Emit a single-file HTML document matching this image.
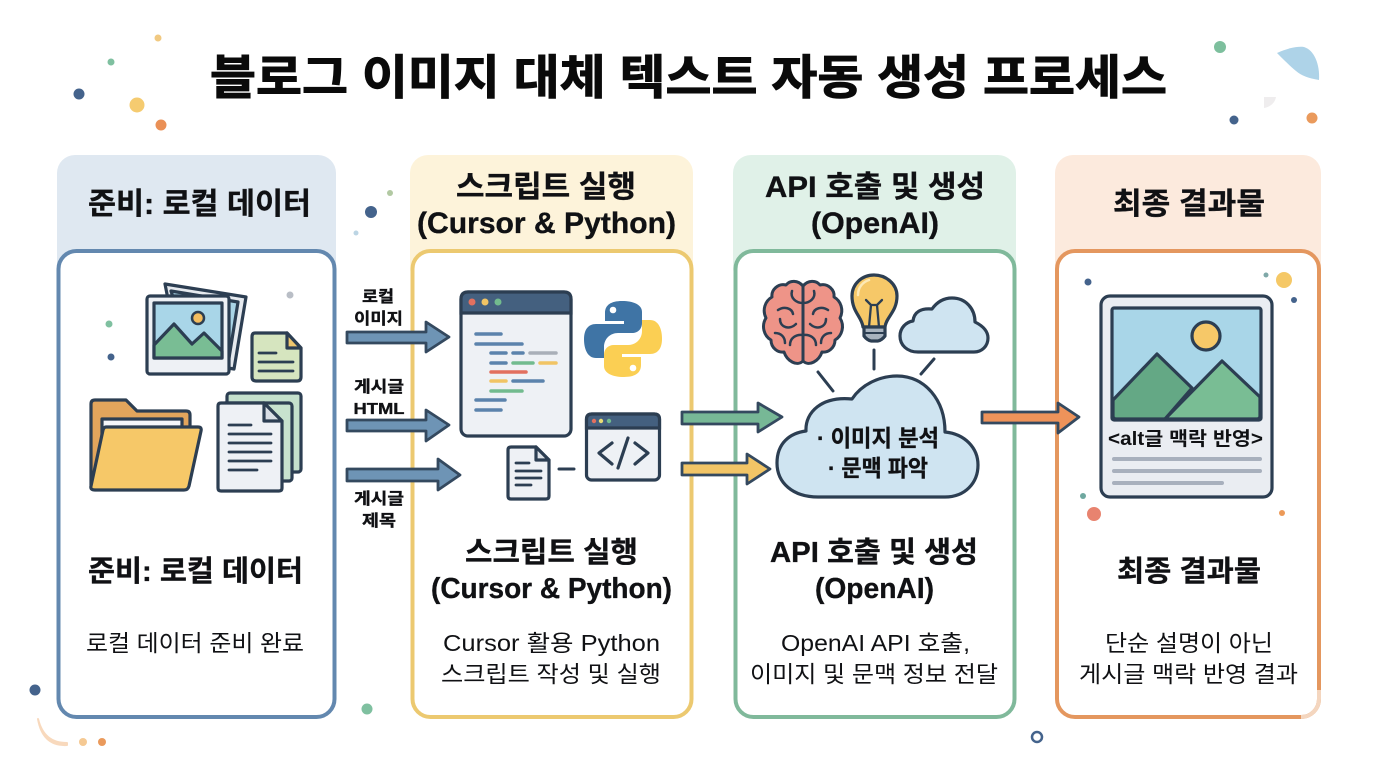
<!DOCTYPE html>
<html lang="ko"><head><meta charset="utf-8"><title>블로그 이미지 대체 텍스트 자동 생성 프로세스</title>
<style>
html,body{margin:0;padding:0;background:#fff;width:1376px;height:768px;overflow:hidden}
svg{display:block}
text{font-family:"Liberation Sans","Noto Sans CJK KR",sans-serif;fill:#101114;text-anchor:middle}
.b{font-weight:700;stroke:#101114;stroke-width:.35px}
.r{font-weight:400}
.ic{stroke:#2c3e52;stroke-width:3.2;stroke-linejoin:round;stroke-linecap:round}
.ln{stroke:#2c3e52;stroke-width:2.8;stroke-linecap:round;fill:none}
.th{stroke-width:3.5;stroke-linecap:round;fill:none}
</style></head><body>
<svg width="1376" height="768" viewBox="0 0 1376 768" xmlns="http://www.w3.org/2000/svg">
<rect width="1376" height="768" fill="#fff"/>

<!-- decorations -->
<g>
<circle cx="158" cy="38" r="3.500" fill="#f1c981"/><circle cx="111" cy="62" r="3.500" fill="#7fc0a0"/>
<circle cx="79" cy="94" r="5.500" fill="#44638c"/><circle cx="137" cy="105" r="7.500" fill="#f5cb70"/>
<circle cx="161" cy="125" r="5.500" fill="#ea9056"/>
<circle cx="1220" cy="47" r="6" fill="#7dbf9d"/><circle cx="1234" cy="120" r="4.500" fill="#44638c"/>
<circle cx="1312" cy="118" r="5.500" fill="#ea9a5c"/>
<path d="M1277 53 C1288 48 1298 46 1304 47 C1314 50 1320 64 1319 80 C1308 78 1302 76 1296 71 C1290 66 1284 60 1277 53 Z" fill="#aed3e8"/>
<path d="M1264 97 H1276 C1275 103 1270 107 1264 108 Z" fill="#efedee"/>
<circle cx="390" cy="193" r="3" fill="#b2c9a3"/><circle cx="371" cy="212" r="6" fill="#44638c"/>
<circle cx="356" cy="233" r="2.500" fill="#bcd5e4"/>
<circle cx="1037" cy="737" r="5" fill="#fff" stroke="#44638c" stroke-width="2.500"/>
<circle cx="367" cy="709" r="5.500" fill="#7fc0a0"/><circle cx="35" cy="690" r="5.500" fill="#44638c"/>
<path d="M38 719 C42 735 51 743 67 743 L67 745 C50 746 41 736 38 719 Z" fill="#f8d9bd" stroke="#f8d9bd" stroke-width="2" stroke-linejoin="round"/>
<circle cx="83" cy="742" r="4" fill="#f5c993"/><circle cx="102" cy="742" r="4" fill="#ea9a5c"/>
</g>

<!-- title -->
<text x="688.500" y="94" font-size="47" font-weight="700" style="stroke:#0a0a0a;stroke-width:1px;fill:#0a0a0a" textLength="957" lengthAdjust="spacingAndGlyphs">블로그 이미지 대체 텍스트 자동 생성 프로세스</text>

<!-- panel headers -->
<rect x="57" y="155" width="279" height="130" rx="18" fill="#dfe8f1"/>
<rect x="410" y="155" width="283" height="130" rx="18" fill="#fdf3da"/>
<rect x="733" y="155" width="283" height="130" rx="18" fill="#e0f1e8"/>
<rect x="1055" y="155" width="266" height="130" rx="18" fill="#fceadd"/>
<!-- panel bodies -->
<rect x="58.500" y="251" width="276" height="466" rx="18" fill="#fff" stroke="#6388af" stroke-width="4"/>
<rect x="412.500" y="251" width="279" height="466" rx="18" fill="#fff" stroke="#ecc970" stroke-width="4"/>
<rect x="735.500" y="251" width="279" height="466" rx="18" fill="#fff" stroke="#80b99b" stroke-width="4"/>
<rect x="1057" y="251" width="262" height="466" rx="18" fill="#fff" stroke="#e4975f" stroke-width="4"/>
<path d="M1319 690 V699 A18 18 0 0 1 1301 717" fill="none" stroke="#f4d6bf" stroke-width="4"/>

<!-- header text -->
<text class="b" x="199.500" y="214" font-size="30" textLength="223" lengthAdjust="spacingAndGlyphs">준비: 로컬 데이터</text>
<text class="b" x="546" y="197" font-size="30" textLength="180" lengthAdjust="spacingAndGlyphs">스크립트 실행</text>
<text class="b" x="546.500" y="233" font-size="30" textLength="259" lengthAdjust="spacingAndGlyphs">(Cursor &amp; Python)</text>
<text class="b" x="875" y="197" font-size="30" textLength="220" lengthAdjust="spacingAndGlyphs">API 호출 및 생성</text>
<text class="b" x="875" y="233" font-size="30" textLength="128" lengthAdjust="spacingAndGlyphs">(OpenAI)</text>
<text class="b" x="1189" y="214" font-size="30" textLength="152" lengthAdjust="spacingAndGlyphs">최종 결과물</text>

<!-- body titles -->
<text class="b" x="195.500" y="581" font-size="29" textLength="215" lengthAdjust="spacingAndGlyphs">준비: 로컬 데이터</text>
<text class="b" x="551.500" y="562" font-size="29" textLength="173" lengthAdjust="spacingAndGlyphs">스크립트 실행</text>
<text class="b" x="551.500" y="598" font-size="29" textLength="241" lengthAdjust="spacingAndGlyphs">(Cursor &amp; Python)</text>
<text class="b" x="874" y="562" font-size="29" textLength="208" lengthAdjust="spacingAndGlyphs">API 호출 및 생성</text>
<text class="b" x="874.500" y="598" font-size="29" textLength="119" lengthAdjust="spacingAndGlyphs">(OpenAI)</text>
<text class="b" x="1189" y="581" font-size="29" textLength="144" lengthAdjust="spacingAndGlyphs">최종 결과물</text>

<!-- descriptions -->
<text class="r" x="195" y="651" font-size="23" textLength="218" lengthAdjust="spacingAndGlyphs">로컬 데이터 준비 완료</text>
<text class="r" x="551.500" y="651" font-size="23" textLength="217" lengthAdjust="spacingAndGlyphs">Cursor 활용 Python</text>
<text class="r" x="551" y="682" font-size="23" textLength="220" lengthAdjust="spacingAndGlyphs">스크립트 작성 및 실행</text>
<text class="r" x="875.500" y="651" font-size="23" textLength="189" lengthAdjust="spacingAndGlyphs">OpenAI API 호출,</text>
<text class="r" x="874" y="682" font-size="23" textLength="248" lengthAdjust="spacingAndGlyphs">이미지 및 문맥 정보 전달</text>
<text class="r" x="1189" y="651" font-size="23" textLength="168" lengthAdjust="spacingAndGlyphs">단순 설명이 아닌</text>
<text class="r" x="1188.500" y="682" font-size="23" textLength="219" lengthAdjust="spacingAndGlyphs">게시글 맥락 반영 결과</text>

<!-- PANEL 1 ICONS -->
<circle cx="290" cy="295" r="3.500" fill="#b9bec6"/><circle cx="109" cy="324" r="3.500" fill="#7fc0a0"/><circle cx="111" cy="357" r="3.500" fill="#44638c"/>
<g class="ic">
<path d="M165 284 L246 297 L234 369 L180 360 Z" fill="#e6eaef"/>
<path d="M171 291 L238 302 L229 358 L190 350 Z" fill="#a9d4e6"/>
<rect x="147" y="296" width="82" height="78" rx="3" fill="#eef1f5"/>
<rect x="154" y="303" width="68" height="55" fill="#a9d6e8"/>
<path d="M154 345 L174 324 L192 344 L204 333 L222 351 V358 H154 Z" fill="#79bd94"/>
<circle cx="198" cy="318" r="6" fill="#f4bd5f" stroke-width="2.500"/>
<path d="M255 333 H287 L301 348 V377 Q301 381 297 381 H256 Q252 381 252 377 V337 Q252 333 255 333 Z" fill="#d6e5bf"/>
<path d="M287 333 V348 H301 Z" fill="#efc76e"/>
<path d="M95 400 H126 L137 411 H186 Q190 411 190 415 V440 L105 489 H95 Q91 489 91 485 V404 Q91 400 95 400 Z" fill="#e2a55c"/>
<rect x="102" y="419" width="80" height="18" fill="#f4f6f9"/>
<path d="M106 427 H198 Q202 427 201 431 L189 486 Q188 490 184 490 H95 Q90 490 91 486 L103 430 Q104 427 106 427 Z" fill="#f6c868"/>
<rect x="227" y="393" width="74" height="79" rx="3" fill="#c4e0cc"/>
<rect x="222" y="403" width="70" height="78" rx="3" fill="#c7e2ce"/>
<path d="M221 403 H264 L282 421 V488 Q282 491 279 491 H221 Q218 491 218 488 V406 Q218 403 221 403 Z" fill="#eef1f5"/>
<path d="M264 403 V421 H282 Z" fill="#d9dfe6"/>
</g>
<g class="ln">
<path d="M259 353 H276 M259 362 H293 M259 371 H293"/>
<path d="M229 425 H251 M229 434 H271 M229 443 H271 M229 452 H271 M229 461 H271 M229 470 H257"/>
</g>

<!-- input arrows -->
<g fill="#6e94b5" stroke="#34495f" stroke-width="2.800" stroke-linejoin="round">
<path d="M347 332 H426 V322 L449 337 L426 352 V343 H347 Z"/>
<path d="M347 420 H426 V410 L449 425 L426 441 V431 H347 Z"/>
<path d="M347 469 H438 V459 L460 475 L438 490 V481 H347 Z"/>
</g>
<text class="b" x="378" y="302" font-size="16" textLength="32" lengthAdjust="spacingAndGlyphs">로컬</text>
<text class="b" x="378.500" y="324" font-size="16" textLength="49" lengthAdjust="spacingAndGlyphs">이미지</text>
<text class="b" x="379" y="392" font-size="16" textLength="50" lengthAdjust="spacingAndGlyphs">게시글</text>
<text class="b" x="379" y="414" font-size="16" textLength="51" lengthAdjust="spacingAndGlyphs">HTML</text>
<text class="b" x="379" y="504" font-size="16" textLength="50" lengthAdjust="spacingAndGlyphs">게시글</text>
<text class="b" x="379" y="526" font-size="16" textLength="34" lengthAdjust="spacingAndGlyphs">제목</text>

<!-- PANEL 2 ICONS -->
<rect x="461" y="292" width="110" height="144" rx="7" fill="#eef1f5" stroke="#2c3e52" stroke-width="3.200"/>
<path d="M461 313 V299 Q461 292 468 292 H564 Q571 292 571 299 V313 Z" fill="#44607f" stroke="#2c3e52" stroke-width="3.200"/>
<circle cx="472" cy="302" r="3.500" fill="#e2705f"/><circle cx="485" cy="302" r="3.500" fill="#f1c464"/><circle cx="498" cy="302" r="3.500" fill="#72bb8e"/>
<g class="th">
<path stroke="#5b83ac" d="M476 334 H501 M476 344 H522 M491 353 H506 M513 353 H523 M491 363 H506 M513 381 H543 M476 400 H505 M476 410 H501"/>
<path stroke="#a9afb8" d="M530 353 H556"/>
<path stroke="#72bb8e" d="M513 363 H533 M491 391 H522"/>
<path stroke="#f1c464" d="M540 363 H556 M491 381 H506"/>
<path stroke="#e2705f" d="M491 372 H526"/>
</g>
<path d="M622 301 C611 301 605 305 605 313 V321 H624 V324 H596 C588 324 584 330 584 339 C584 350 588 358 596 358 H604 V347 C604 339 610 333 618 333 H632 C638 333 642 329 642 323 V312 C642 305 634 301 622 301Z" fill="#3f74a5"/>
<circle cx="613" cy="310" r="3.300" fill="#fff"/>
<path transform="rotate(180 623 339)" d="M622 301 C611 301 605 305 605 313 V321 H624 V324 H596 C588 324 584 330 584 339 C584 350 588 358 596 358 H604 V347 C604 339 610 333 618 333 H632 C638 333 642 329 642 323 V312 C642 305 634 301 622 301Z" fill="#fbcf53"/>
<circle cx="633" cy="368" r="3.300" fill="#fff"/>
<rect x="586.500" y="414" width="73" height="66" rx="5" fill="#eef1f5" stroke="#2c3e52" stroke-width="3.200"/>
<path d="M586.500 428 V419 Q586.500 414 592 414 H654 Q659.500 414 659.500 419 V428 Z" fill="#44607f" stroke="#2c3e52" stroke-width="3.200"/>
<circle cx="594" cy="421" r="2.200" fill="#e2705f"/><circle cx="601" cy="421" r="2.200" fill="#e9dc74"/><circle cx="609" cy="421" r="2.200" fill="#72bb8e"/>
<path d="M612 443 L599 453 L612 464 M635 443 L648 453 L635 464 M628 438 L618 468" fill="none" stroke="#2c3e52" stroke-width="3.200" stroke-linecap="round" stroke-linejoin="round"/>
<path d="M511 447 H536 L549 460 V496 Q549 499 546 499 H511 Q508 499 508 496 V450 Q508 447 511 447 Z" fill="#eef1f5" class="ic"/>
<path d="M536 447 V460 H549 Z" fill="#dde2e8" class="ic"/>
<path d="M516 463 H529 M516 471 H541 M516 478 H541 M516 485 H531" class="ln"/>
<path d="M559 469 H574" stroke="#2c3e52" stroke-width="3" stroke-linecap="round"/>

<!-- mid arrows -->
<path d="M682 412 H758 V403 L782 417 L758 432 V424 H682 Z" fill="#77b896" stroke="#34495f" stroke-width="2.800" stroke-linejoin="round"/>
<path d="M682 463 H747 V454 L770 469 L747 484 V475 H682 Z" fill="#f2c566" stroke="#34495f" stroke-width="2.800" stroke-linejoin="round"/>

<!-- PANEL 3 ICONS -->
<path d="M803 286 C798 280 790 280 786 285 C778 283 771 290 772 297 C765 301 762 310 766 318 C761 326 764 336 771 340 C771 348 778 353 784 352 C787 361 797 367 803 361 Z" fill="#ee9488" stroke="#2c3e52" stroke-width="3" stroke-linejoin="round"/>
<path d="M803 303 C796 303 790 298 792 291 M778 310 C784 306 792 308 793 314 M780 319 C780 328 790 330 796 324 M803 335 C796 334 790 338 790 345 M775 333 C781 333 785 337 785 343" fill="none" stroke="#2c3e52" stroke-width="2.500" stroke-linecap="round"/>
<path d="M803 286 C808 280 816 280 820 285 C828 283 835 290 834 297 C841 301 844 310 840 318 C845 326 842 336 835 340 C835 348 828 353 822 352 C819 361 809 367 803 361 Z" fill="#ee9488" stroke="#2c3e52" stroke-width="3" stroke-linejoin="round"/>
<path d="M803 303 C810 303 816 298 814 291 M828 310 C822 306 814 308 813 314 M826 319 C826 328 816 330 810 324 M803 335 C810 334 816 338 816 345 M831 333 C825 333 821 337 821 343 M803 286 V361" fill="none" stroke="#2c3e52" stroke-width="2.500" stroke-linecap="round"/>
<path d="M863 327 C862 317 852 312 852 296 C852 284 862 275 874 275 C886 275 897 284 897 296 C897 312 886 317 885 327 Z" fill="#f6c868" class="ic"/>
<path d="M858 295 C858 287 863 282 869 280" fill="none" stroke="#fde9b5" stroke-width="2.500" stroke-linecap="round"/>
<path d="M866 300 L871 305 L869 327 M882 300 L877 305 L879 327 M871 305 H877" fill="none" stroke="#2c3e52" stroke-width="2.300" stroke-linecap="round" stroke-linejoin="round"/>
<path d="M864 327 H885 V336 Q882 340 878 341 H871 Q867 340 864 336 Z" fill="#a8b3bf" class="ic"/>
<path d="M864 333 H885" stroke="#2c3e52" stroke-width="2"/>
<path d="M918 352 C907 352 900 345 900 336 C900 328 906 322 913 321 C914 312 921 308 932 309 C937 302 944 298 952 298 C966 298 975 309 975 322 C983 326 988 331 988 338 C988 346 982 352 974 352 Z" fill="#cfe4f1" class="ic"/>
<path d="M818 372 L833 391 M874 350 V369 M934 359 L921 374" stroke="#2c3e52" stroke-width="3" stroke-linecap="round"/>
<path d="M818 497 C793 497 777 483 777 463 C777 443 790 433 806 431 C805 412 822 396 852 399 C862 384 880 376 897 376 C925 376 945 400 945 432 C965 434 978 448 978 465 C978 483 965 497 945 497 Z" fill="#cfe4f1" class="ic"/>
<text class="b" x="878" y="446" font-size="23" textLength="122" lengthAdjust="spacingAndGlyphs">· 이미지 분석</text>
<text class="b" x="878" y="476" font-size="23" textLength="100" lengthAdjust="spacingAndGlyphs">· 문맥 파악</text>

<path d="M982 412 H1058 V403 L1079 417 L1058 433 V423 H982 Z" fill="#ee935a" stroke="#34495f" stroke-width="2.800" stroke-linejoin="round"/>

<!-- PANEL 4 ICONS -->
<circle cx="1088" cy="282" r="3.500" fill="#44638c"/><circle cx="1266" cy="275" r="2.500" fill="#7fa8a8"/>
<circle cx="1284" cy="280" r="8" fill="#f5c866"/><circle cx="1294" cy="300" r="3" fill="#44638c"/>
<circle cx="1083" cy="496" r="3" fill="#6fa8a0"/><circle cx="1094" cy="514" r="7" fill="#e8836f"/><circle cx="1282" cy="513" r="3" fill="#ec9a58"/>
<rect x="1101" y="296" width="171" height="201" rx="9" fill="#eaedf2" class="ic"/>
<rect x="1112" y="308" width="149" height="112" rx="2" fill="#a9d6e8" class="ic"/>
<path d="M1113 400 L1157 354 L1192 388 L1165 419 H1116 Q1113 419 1113 416 Z" fill="#64a885" class="ic"/>
<path d="M1165 419 L1222 361 L1260 397 V416 Q1260 419 1257 419 Z" fill="#79bd94" class="ic"/>
<circle cx="1206" cy="336" r="14" fill="#f6c868" class="ic"/>
<text x="1185.500" y="445" font-size="19" font-weight="700" textLength="155" lengthAdjust="spacingAndGlyphs">&lt;alt글 맥락 반영&gt;</text>
<path d="M1114 459 H1260 M1114 471 H1260 M1114 483 H1222" stroke="#a8b0bd" stroke-width="4" stroke-linecap="round"/>
</svg>
</body></html>
